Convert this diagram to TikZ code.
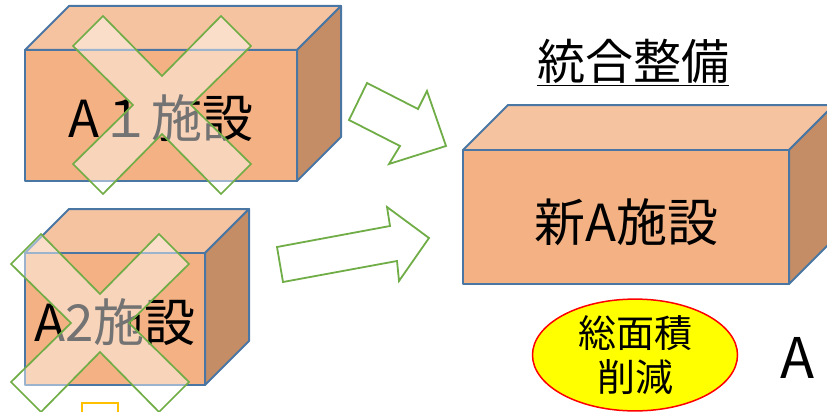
\documentclass[tikz,border=0pt]{standalone}
\usepackage{fontspec}
\setmainfont{Noto Sans CJK JP}
\usetikzlibrary{shapes.geometric}
\definecolor{myfrontcolor}{HTML}{F4B183}
\definecolor{mytopcolor}{HTML}{F6C3A0}
\definecolor{mysidecolor}{HTML}{C58D66}
\definecolor{myedgecolor}{HTML}{4A76A3}
\definecolor{mygreencolor}{HTML}{70AD47}
\definecolor{myredcolor}{HTML}{FF0000}
\definecolor{myyellowcolor}{HTML}{FFFF00}
\definecolor{myorangecolor}{HTML}{FFC000}

\begin{document}
\begin{tikzpicture}[x=1pt, y=-1pt,
  boxface/.style={draw=myedgecolor, line width=2pt, line join=round},
  crossmark/.style={draw=mygreencolor, line width=1.7pt, fill=white, fill opacity=0.45},
  blockarrow/.style={draw=mygreencolor, line width=1.8pt, fill=white},
  boxlabel/.style={inner sep=0pt, font=\fontsize{51pt}{51pt}\selectfont}]%
\useasboundingbox (0,0) rectangle (827,412);%
\clip (0,0) rectangle (827,412);%
% A1 box
\path[fill=mytopcolor, boxface] (25,50) -- (69,6) -- (341,6) -- (297,50) -- cycle;%
\path[fill=mysidecolor, boxface] (297,50) -- (341,6) -- (341,137) -- (297,181) -- cycle;%
\path[fill=myfrontcolor, boxface] (25,50) rectangle (297,181);%
\node[boxlabel] (a1label) at (161,118) {A１施設};%
\path[crossmark, shift={(162,105)}] (-89,-59) -- (-59,-89) -- (0,-29) -- (59,-89) -- (89,-59) -- (29,0) -- (89,59) -- (59,89) -- (0,29) -- (-59,89) -- (-89,59) -- (-29,0) -- cycle;%
% A2 box
\path[fill=mytopcolor, boxface] (25,253) -- (69,209) -- (249,209) -- (205,253) -- cycle;%
\path[fill=mysidecolor, boxface] (205,253) -- (249,209) -- (249,341) -- (205,385) -- cycle;%
\path[fill=myfrontcolor, boxface] (25,253) rectangle (205,385);%
\node[boxlabel] (a2label) at (115,322) {A2施設};%
\path[crossmark, shift={(100,323)}] (-89,-59) -- (-59,-89) -- (0,-29) -- (59,-89) -- (89,-59) -- (29,0) -- (89,59) -- (59,89) -- (0,29) -- (-59,89) -- (-89,59) -- (-29,0) -- cycle;%
% arrows
\path[blockarrow] (367,83) -- (418,109) -- (427,91) -- (446,146) -- (389,164) -- (400,146) -- (349,120) -- cycle;%
\path[blockarrow] (277,247) -- (390,226) -- (387,207) -- (429,238) -- (399,281) -- (397,261) -- (283,282) -- cycle;%
% new A box
\path[fill=mytopcolor, boxface] (463,150) -- (508,105) -- (834,105) -- (789,150) -- cycle;%
\path[fill=mysidecolor, boxface] (789,150) -- (834,105) -- (834,239) -- (789,284) -- cycle;%
\path[fill=myfrontcolor, boxface] (463,150) rectangle (789,284);%
\node[boxlabel] (newlabel) at (626,222) {新A施設};%
\node[inner sep=0pt, font=\fontsize{48pt}{48pt}\selectfont] (title) at (633,61) {統合整備};%
\draw[line width=1.5pt] ([yshift=-2pt]title.south west) -- ([yshift=-2pt]title.south east);%
% reduction
\node[ellipse, draw=myredcolor, fill=myyellowcolor, line width=1.5pt, minimum width=205pt, minimum height=96pt, align=center, inner sep=0pt, font=\fontsize{38pt}{44pt}\selectfont] (reduce) at (635,355) {総面積\\削減};%
\node[inner sep=0pt, font=\fontsize{56pt}{56pt}\selectfont] (aright) at (798,358) {A};%
\draw[myorangecolor, line width=1.8pt] (82,420) -- (82,403) -- (118,403) -- (118,420);%
\end{tikzpicture}
\end{document}
